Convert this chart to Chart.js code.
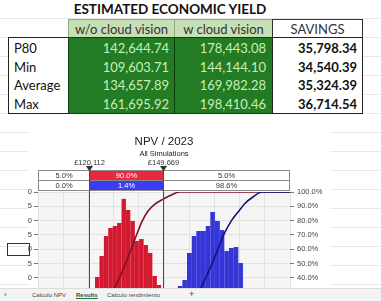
<!DOCTYPE html>
<html>
<head>
<meta charset="utf-8">
<title>Estimated economic yield</title>
<script src="https://cdn.jsdelivr.net/npm/chart.js@4.4.1/dist/chart.umd.min.js"></script>
<style>
  body {
    margin: 0;
    width: 381px;
    height: 301px;
    overflow: hidden;
    position: relative;
    font-family: Lato, sans-serif;
    background: #fff repeating-linear-gradient(to bottom, transparent 0, transparent 18px, #e8e8e8 18px, #e8e8e8 19px);
  }
  .abs { position: absolute; box-sizing: border-box; }
  #title { left: 40px; width: 260px; top: 1px; height: 17px; text-align: center; font-weight: bold; font-size: 13.5px; color: #111; line-height: 17px; }
  .hdr { top: 19px; height: 19px; font-size: 13px; color: #333; text-align: center; line-height: 18px; }
  .green { background: #c6dfb5; border: 1px solid #8fae80; }
  .cell { font-size: 13px; line-height: 18.5px; height: 18.5px; white-space: nowrap; }
  #chartWrap { left: 28px; top: 127px; width: 302px; height: 174px; overflow: hidden; background: #fff; }
  #chartWrap canvas { position: absolute; left: -28px; top: 0; }
  #selCell { left: 7px; top: 243px; width: 23px; height: 13px; border: 1.5px solid #333; }
  #tabs { left: 0; top: 288px; width: 381px; height: 13px; background: #f3f3f3; border-top: 1px solid #dcdcdc; font-family: "Liberation Sans", sans-serif; font-size: 6px; color: #444; }
  #tabs span { position: absolute; top: 3px; }
</style>
</head>
<body>
<div class="abs" id="title">ESTIMATED ECONOMIC YIELD</div>
<div id="table"></div>
<div class="abs" id="chartWrap"><canvas id="npvChart" width="330" height="250"></canvas></div>
<div class="abs" id="selCell"></div>
<div class="abs" id="tabs">
  <span style="left:4px;font-size:8px;top:1px;">&rsaquo;</span>
  <span style="left:32px;">Calculo NPV</span>
  <span style="left:76px;font-weight:bold;border-bottom:1.5px solid #217346;">Results</span>
  <span style="left:107px;">Calculo rendimiento</span>
  <span style="left:189px;font-size:9px;top:0;">+</span>
</div>

<script>
// table values
const rowLabels = ['P80', 'Min', 'Average', 'Max'];
const withoutCloud = [142644.74, 109603.71, 134657.89, 161695.92];
const withCloud = [178443.08, 144144.10, 169982.28, 198410.46];
const savings = [35798.34, 34540.39, 35324.39, 36714.54];

// histograms (relative frequency), bin centres in £
const redBins = [114750, 116500, 118250, 120000, 121750, 123500, 125250, 127000, 128750, 130500, 132250, 134000,
  135750, 137500, 139250, 141000, 142750, 144500, 146250, 148000, 149750, 151500, 153250];
const redDensity = [0.1, 0.3, 0.6, 1.0, 1.5, 2.03, 2.76, 3.46, 3.74, 3.81, 3.92, 4.76,
  4.37, 3.99, 3.29, 3.36, 3.15, 2.87, 2.06, 1.75, 1.2, 0.6, 0.2];
const blueBins = [150800, 152650, 154500, 156350, 158200, 160050, 161900, 163750, 165600, 167450, 169300,
  171150, 173000, 174850, 176700, 178550, 180400, 182250, 184100];
const blueDensity = [0.2, 0.6, 1.2, 1.71, 1.92, 2.87, 3.46, 3.64, 3.64, 3.81, 4.30,
  3.99, 3.67, 2.94, 3.04, 3.08, 2.52, 1.3, 0.5];

// cumulative curves (%)
const redCdfX = [110000, 114000, 117000, 120112, 123500, 127000, 130500, 133700, 136500, 138900, 141300,
  143600, 146400, 149669, 152400, 156300, 200000];
const redCdfPct = [0, 0.5, 2, 5, 12, 21, 33, 45.5, 58, 69, 79.5, 86.5, 91.5, 95, 97.5, 100, 100];
const blueCdfX = [146000, 150000, 154000, 157500, 161000, 164700, 168600, 171400, 173800, 176600, 179400,
  182100, 185300, 188900, 200000];
const blueCdfPct = [0, 0.5, 3, 9, 19, 33, 48, 60, 70.5, 79.5, 86, 92, 96.5, 100, 100];

// delimiters and band percentages
const delimiters = [120112, 149669];
const redBand = [5.0, 90.0, 5.0];
const blueBand = [0.0, 1.4, 98.6];

// ---- table ----
const table = document.getElementById('table');
function box(left, top, w, h, style, text) {
  const d = document.createElement('div');
  d.className = 'abs';
  d.style.cssText = `left:${left}px;top:${top}px;width:${w}px;height:${h}px;` + style;
  if (text !== undefined) d.textContent = text;
  table.appendChild(d);
  return d;
}
const fmt = v => v.toLocaleString('en-US', { minimumFractionDigits: 2, maximumFractionDigits: 2 });

box(68, 19, 107, 19, '', 'w/o cloud vision').className = 'abs hdr green';
box(174, 19, 99, 19, '', 'w cloud vision').className = 'abs hdr green';
box(272, 19, 91, 19, '', 'SAVINGS').className = 'abs hdr';
table.lastChild.style.border = '1px solid #333';
box(8, 37, 61, 77, 'border:1px solid #222;background:#fff;');
box(68, 37, 205, 77, 'background:#237c23;border:1px solid #123f12;');
box(174, 37, 1, 77, 'background:#0b3a0b;');
box(272, 37, 91, 77, 'border:1px solid #222;background:#fff;');

rowLabels.forEach((lab, i) => {
  const top = 39 + i * 18.5;
  box(14, top, 54, 18.5, 'color:#111;', lab).classList.add('cell');
  box(68, top, 101, 18.5, 'color:#c9eebb;text-align:right;', fmt(withoutCloud[i])).classList.add('cell');
  box(174, top, 92, 18.5, 'color:#c9eebb;text-align:right;', fmt(withCloud[i])).classList.add('cell');
  box(272, top, 85, 18.5, 'color:#111;text-align:right;font-weight:bold;', fmt(savings[i])).classList.add('cell');
});

// ---- chart ----
const SANS = '"Liberation Sans", Arial, sans-serif';

const npvOverlay = {
  id: 'npvOverlay',
  beforeDraw(chart) {
    const { ctx, chartArea: a } = chart;
    ctx.save();
    ctx.fillStyle = '#f5f5f5';
    ctx.fillRect(a.left, a.top, a.right - a.left, a.bottom - a.top);
    ctx.restore();
  },
  afterDraw(chart) {
    const { ctx, chartArea: a, scales } = chart;
    const cx = (a.left + a.right) / 2;
    const d = delimiters.map(v => Math.round(scales.x.getPixelForValue(v)) + 0.5);
    const edges = [a.left + 0.5, d[0], d[1], a.right - 0.5];
    const rowH = 10;
    const row1 = a.top - 21.5;
    ctx.save();

    ctx.fillStyle = '#222';
    ctx.textAlign = 'center';
    ctx.textBaseline = 'middle';
    ctx.font = '11.5px ' + SANS;
    ctx.fillText('NPV / 2023', cx, a.top - 50);
    ctx.font = '7.5px ' + SANS;
    ctx.fillText('All Simulations', cx, a.top - 38.5);

    // band rows
    const rows = [[redBand, '#e8283d'], [blueBand, '#3c3cf2']];
    rows.forEach(([vals, col], r) => {
      const y = row1 + r * rowH;
      for (let i = 0; i < 3; i++) {
        ctx.fillStyle = i === 1 ? col : '#fff';
        ctx.fillRect(edges[i], y, edges[i + 1] - edges[i], rowH);
        ctx.strokeStyle = '#8a8a8a';
        ctx.lineWidth = 1;
        ctx.strokeRect(edges[i], y, edges[i + 1] - edges[i], rowH);
        ctx.fillStyle = i === 1 ? '#fff' : '#333';
        ctx.font = '7.5px ' + SANS;
        ctx.fillText(vals[i].toFixed(1) + '%', (edges[i] + edges[i + 1]) / 2, y + rowH / 2 + 0.5);
      }
    });

    // delimiter lines, markers and labels
    ctx.strokeStyle = '#4d4d4d';
    ctx.lineWidth = 1;
    d.forEach((x, i) => {
      ctx.beginPath();
      ctx.moveTo(x, row1);
      ctx.lineTo(x, a.bottom);
      ctx.stroke();
      ctx.fillStyle = '#333';
      ctx.beginPath();
      ctx.moveTo(x - 3.5, a.top - 26);
      ctx.lineTo(x + 3.5, a.top - 26);
      ctx.lineTo(x, a.top - 20.5);
      ctx.closePath();
      ctx.fill();
      ctx.font = '7.5px ' + SANS;
      ctx.fillText('£' + delimiters[i].toLocaleString('en-US'), x, a.top - 29);
    });
    ctx.restore();
  }
};

const ctx = document.getElementById('npvChart').getContext('2d');
const toXY = (xs, ys) => xs.map((x, i) => ({ x: x, y: ys[i] }));

var npvChart = new Chart(ctx, { // eslint-disable-line
  type: 'bar',
  data: {
    datasets: [
      {
        type: 'line',
        label: 'w cloud vision (cumulative)',
        data: toXY(blueCdfX, blueCdfPct),
        xAxisID: 'x',
        yAxisID: 'y2',
        borderColor: '#14147a',
        borderWidth: 1.6,
        pointRadius: 0,
        cubicInterpolationMode: 'monotone'
      },
      {
        type: 'line',
        label: 'w/o cloud vision (cumulative)',
        data: toXY(redCdfX, redCdfPct),
        xAxisID: 'x',
        yAxisID: 'y2',
        borderColor: '#7d1327',
        borderWidth: 1.6,
        pointRadius: 0,
        cubicInterpolationMode: 'monotone'
      },
      {
        label: 'w/o cloud vision',
        data: toXY(redBins, redDensity),
        xAxisID: 'x',
        yAxisID: 'y',
        grouped: false,
        backgroundColor: '#d11a30',
        borderColor: '#e2485a',
        borderWidth: { left: 0, top: 0, bottom: 0, right: 0.6 },
        barPercentage: 1,
        categoryPercentage: 1
      },
      {
        label: 'w cloud vision',
        data: toXY(blueBins, blueDensity),
        xAxisID: 'xb',
        yAxisID: 'y',
        grouped: false,
        backgroundColor: '#3535d8',
        borderColor: '#5a5ae6',
        borderWidth: { left: 0, top: 0, bottom: 0, right: 0.6 },
        barPercentage: 1,
        categoryPercentage: 1
      }
    ]
  },
  options: {
    responsive: false,
    animation: false,
    layout: { padding: { top: 65, left: 0, right: 0, bottom: 0 } },
    plugins: { legend: { display: false }, tooltip: { enabled: false } },
    scales: {
      x: {
        type: 'linear',
        min: 100000,
        max: 200000,
        offset: false,
        ticks: { stepSize: 10000, display: false },
        grid: { color: '#e2e2e2', drawTicks: false, offset: false },
        border: { display: false },
        afterFit(s) { s.height = 42; }
      },
      xb: { type: 'linear', min: 100000, max: 200000, offset: false, display: false, ticks: { stepSize: 10000 } },
      y: {
        position: 'left',
        min: 0,
        max: 5,
        ticks: { stepSize: 0.5, callback: v => v.toFixed(1), color: '#444', padding: 2, font: { family: SANS, size: 7.5 } },
        grid: { color: '#e2e2e2', tickLength: 4, tickColor: '#777' },
        border: { display: false },
        afterFit(s) { s.width = 38; }
      },
      y2: {
        position: 'right',
        min: 0,
        max: 100,
        ticks: { stepSize: 10, callback: v => v.toFixed(1) + '%', color: '#444', padding: 3, font: { family: SANS, size: 7.5 } },
        grid: { drawOnChartArea: false, tickLength: 4, tickColor: '#777' },
        border: { display: false },
        afterFit(s) { s.width = 40; }
      }
    }
  },
  plugins: [npvOverlay]
});
</script>
</body>
</html>
